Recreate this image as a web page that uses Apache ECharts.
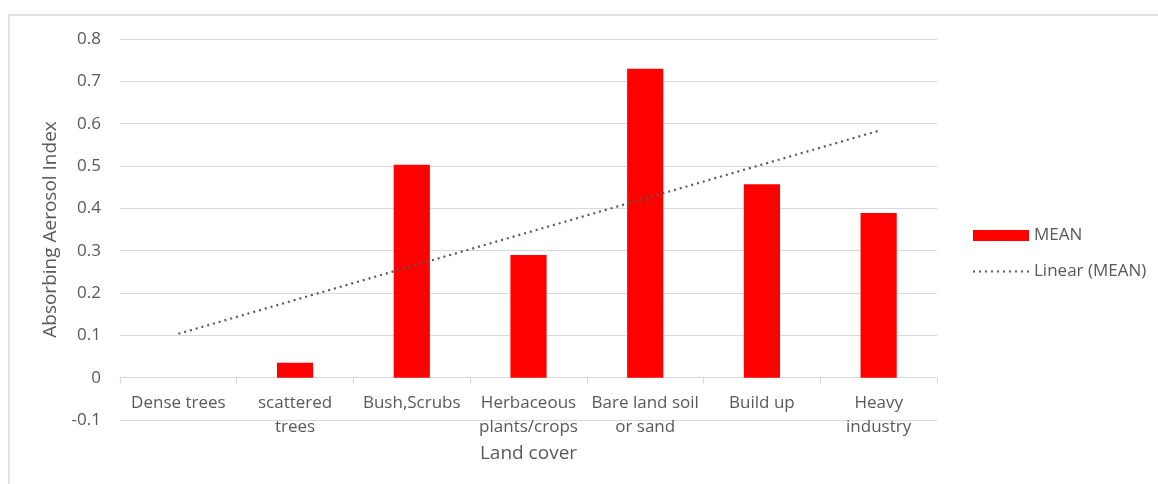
<!DOCTYPE html>
<html>
<head>
<meta charset="utf-8">
<script src="https://cdn.jsdelivr.net/npm/echarts@6/dist/echarts.min.js"></script>
<style>
  html, body { margin: 0; padding: 0; background: #fff; }
  #chart { width: 1158px; height: 484px; }
</style>
</head>
<body>
<div id="chart"></div>
<script>
// Land cover classes (x axis)
const categories = [
  'Dense trees',
  'scattered\ntrees',
  'Bush,Scrubs',
  'Herbaceous\nplants/crops',
  'Bare land soil\nor sand',
  'Build up',
  'Heavy\nindustry'
];
// Mean absorbing aerosol index per class
const meanValues = [0, 0.035, 0.503, 0.29, 0.73, 0.457, 0.389];
// Y axis ticks
const yMin = -0.1, yMax = 0.8, yStep = 0.1;

// Least-squares linear trend of the MEAN series over category positions 1..n
function linearTrend(values) {
  const n = values.length;
  let sx = 0, sy = 0, sxx = 0, sxy = 0;
  values.forEach((y, i) => {
    const x = i + 1;
    sx += x; sy += y; sxx += x * x; sxy += x * y;
  });
  const slope = (n * sxy - sx * sy) / (n * sxx - sx * sx);
  const intercept = (sy - slope * sx) / n;
  return values.map((_, i) => slope * (i + 1) + intercept);
}
const trendValues = linearTrend(meanValues);

const font = '"Open Sans", sans-serif';
const textColor = '#595959';
const gridColor = '#d9d9d9';

const chart = echarts.init(document.getElementById('chart'));
chart.setOption({
  animation: false,
  textStyle: { fontFamily: font, color: textColor },
  graphic: [{
    type: 'rect',
    shape: { x: 9, y: 15, width: 1200, height: 520 },
    style: { fill: 'none', stroke: '#d9d9d9', lineWidth: 1.5 },
    silent: true
  }],
  grid: { left: 120, right: 221, top: 39, bottom: 64, containLabel: false, outerBoundsMode: 'none' },
  legend: {
    orient: 'vertical',
    left: 972,
    top: 227,
    padding: 0,
    itemGap: 19,
    itemWidth: 56,
    itemHeight: 11,
    textStyle: { fontFamily: font, fontSize: 17, color: textColor },
    data: [
      { name: 'MEAN', icon: 'rect' },
      { name: 'Linear (MEAN)' }
    ]
  },
  xAxis: {
    type: 'category',
    data: categories,
    name: 'Land cover',
    nameLocation: 'middle',
    nameGap: 22,
    nameTextStyle: { fontFamily: font, fontSize: 19, color: textColor },
    axisLine: { onZero: true, lineStyle: { color: gridColor, width: 1 } },
    axisTick: { show: true, length: 6, lineStyle: { color: gridColor } },
    axisLabel: {
      interval: 0, margin: -29, fontSize: 17, color: textColor,
      lineHeight: 24, fontFamily: font
    }
  },
  yAxis: {
    type: 'value',
    min: yMin, max: yMax, interval: yStep,
    name: 'Absorbing Aerosol Index',
    nameLocation: 'middle',
    nameGap: 60,
    nameRotate: 90,
    nameTextStyle: { fontFamily: font, fontSize: 19, color: textColor },
    axisLine: { show: false },
    axisTick: { show: false },
    axisLabel: {
      margin: 19, fontSize: 17, color: textColor, fontFamily: font,
      formatter: v => (Math.round(v * 10) / 10).toString()
    },
    splitLine: { lineStyle: { color: gridColor, width: 1 } }
  },
  series: [
    {
      name: 'MEAN',
      type: 'bar',
      data: meanValues,
      barWidth: '31%',
      itemStyle: { color: '#ff0000' }
    },
    {
      name: 'Linear (MEAN)',
      type: 'line',
      data: trendValues,
      symbol: 'none',
      lineStyle: { color: '#595959', width: 2.2, type: [2, 4] },
      itemStyle: { color: 'rgba(0,0,0,0)' }
    }
  ]
});
</script>
</body>
</html>
